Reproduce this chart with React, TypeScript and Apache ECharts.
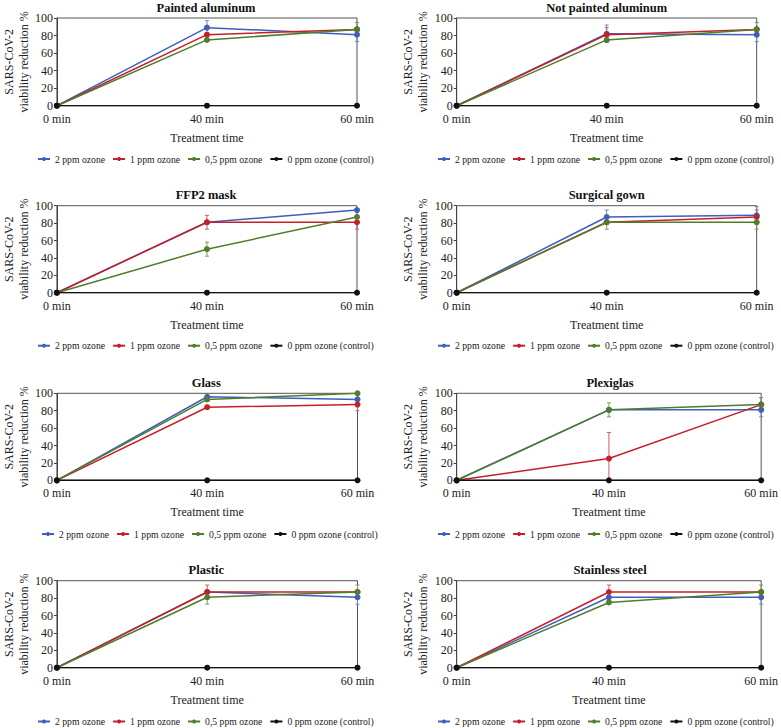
import React, { useEffect, useRef } from 'react';
import * as echarts from 'echarts';

const times = ['0 min', '40 min', '60 min'];
const seriesNames = ['2 ppm ozone', '1 ppm ozone', '0,5 ppm ozone', '0 ppm ozone (control)'];
const panelTitles = ['Painted aluminum', 'Not painted aluminum', 'FFP2 mask', 'Surgical gown', 'Glass', 'Plexiglas', 'Plastic', 'Stainless steel'];

// mean viability reduction (%) per panel, at 0 / 40 / 60 min
const values2ppm = [[0, 89, 81], [0, 82, 81], [0, 81, 95], [0, 87, 89], [0, 96, 93], [0, 81, 81], [0, 87, 81], [0, 81, 81]];
const values1ppm = [[0, 81, 87], [0, 81, 87], [0, 81, 81], [0, 81, 87], [0, 84, 87], [0, 25, 87], [0, 87, 87], [0, 87, 87]];
const values05ppm = [[0, 75, 87], [0, 75, 87], [0, 50, 87], [0, 81, 81], [0, 93, 100], [0, 81, 87], [0, 81, 87], [0, 75, 87]];
const values0ppm = [[0, 0, 0], [0, 0, 0], [0, 0, 0], [0, 0, 0], [0, 0, 0], [0, 0, 0], [0, 0, 0], [0, 0, 0]];

// error (+/-) per panel
const err2ppm = [[0, 8, 8], [0, 10, 8], [0, 0, 0], [0, 8, 10], [0, 0, 0], [0, 0, 8], [0, 0, 8], [0, 0, 8]];
const err1ppm = [[0, 0, 0], [0, 8, 0], [0, 8, 8], [0, 0, 8], [0, 0, 7], [0, 30, 8], [0, 8, 0], [0, 8, 0]];
const err05ppm = [[0, 0, 8], [0, 0, 8], [0, 8, 0], [0, 8, 8], [0, 0, 0], [0, 8, 8], [0, 8, 8], [0, 0, 8]];

const yTicks = { min: 0, max: 100, interval: 20 };

const lineColors = ['#3d5fbd', '#c4202b', '#4f7d2b', '#111111'];
const errColors = ['#7088c8', '#d25a60', '#7f9c63'];
const FONT = 'Liberation Serif';

// layout: [left, top, width, height]
const gridRects = [
  [55, 18, 302, 87.7],
  [456.7, 18, 300, 87.7],
  [55, 205.7, 302, 87],
  [456.7, 205.7, 300, 87],
  [55, 393.3, 302.5, 87],
  [456.7, 393.3, 306.6, 87],
  [55, 580.7, 302.5, 87],
  [456.7, 580.7, 306.6, 87],
];
const legendPos = [
  [37, 160], [437, 160], [37, 346.7], [437, 346.7], [41, 535], [437, 535], [37, 722.5], [437, 722.5],
];

export default function App() {
  const ref = useRef<HTMLDivElement>(null);
  useEffect(() => {
    document.body.style.margin = '0';
    if (!ref.current) return;
    const chart = echarts.init(ref.current, undefined, { renderer: 'svg' });

    const grid: any[] = [];
    const xAxis: any[] = [];
    const yAxis: any[] = [];
    const title: any[] = [];
    const legend: any[] = [];
    const series: any[] = [];

    const allValues = [values2ppm, values1ppm, values05ppm, values0ppm];
    const allErr = [err2ppm, err1ppm, err05ppm];

    panelTitles.forEach((t, p) => {
      const [l, tp, w, h] = gridRects[p];
      grid.push({ left: l, top: tp, width: w, height: h, show: true, borderColor: '#555', borderWidth: 1, backgroundColor: 'transparent' });
      title.push({
        text: t, left: l + w / 2, top: tp - 17, textAlign: 'center', padding: 0,
        textStyle: { fontFamily: FONT, fontWeight: 'bold', fontSize: 12.5, color: '#111' },
      });
      xAxis.push({
        type: 'category', gridIndex: p, data: times, boundaryGap: false,
        name: 'Treatment time', nameLocation: 'middle', nameGap: 26,
        nameTextStyle: { fontFamily: FONT, fontSize: 12, color: '#222' },
        axisLine: { lineStyle: { color: '#444' } },
        axisTick: { show: false },
        axisLabel: { fontFamily: FONT, fontSize: 12, color: '#222', margin: 7 },
        splitLine: { show: false },
      });
      yAxis.push({
        type: 'value', gridIndex: p, min: yTicks.min, max: yTicks.max, interval: yTicks.interval,
        name: 'SARS-CoV-2\nviability reduction %', nameLocation: 'middle', nameGap: 25, nameRotate: 90,
        nameTextStyle: { fontFamily: FONT, fontSize: 12, color: '#222', lineHeight: 15 },
        axisLine: { show: true, lineStyle: { color: '#444' } },
        axisTick: { show: true, length: 3, lineStyle: { color: '#444' } },
        axisLabel: { fontFamily: FONT, fontSize: 12, color: '#222', margin: 4 },
        splitLine: { show: false },
      });
      legend.push({
        left: legendPos[p][0], top: legendPos[p][1] - 6, width: 400, orient: 'horizontal',
        data: seriesNames, itemWidth: 12, itemHeight: 5, itemGap: 7,
        textStyle: { fontFamily: FONT, fontSize: 9.7, color: '#222' },
        padding: 0,
      });

      // error bars
      const errData: any[] = [];
      for (let s = 0; s < 3; s++) {
        allValues[s][p].forEach((v, i) => {
          const e = allErr[s][p][i];
          if (e > 0) errData.push([i, v - e, v + e, s]);
        });
      }
      series.push({
        type: 'custom', xAxisIndex: p, yAxisIndex: p, z: 1, silent: true,
        data: errData,
        renderItem: (params: any, api: any) => {
          const x = api.value(0);
          const lo = api.coord([x, api.value(1)]);
          const hi = api.coord([x, api.value(2)]);
          const cs = params.coordSys;
          const yLo = Math.min(lo[1], cs.y + cs.height);
          const yHi = Math.max(hi[1], cs.y);
          const c = errColors[api.value(3)];
          const st = { stroke: c, lineWidth: 1 };
          const children: any[] = [
            { type: 'line', shape: { x1: lo[0], y1: yLo, x2: hi[0], y2: yHi }, style: st },
          ];
          if (hi[1] >= cs.y) children.push({ type: 'line', shape: { x1: hi[0] - 2, y1: yHi, x2: hi[0] + 2, y2: yHi }, style: st });
          if (lo[1] <= cs.y + cs.height) children.push({ type: 'line', shape: { x1: lo[0] - 2, y1: yLo, x2: lo[0] + 2, y2: yLo }, style: st });
          return { type: 'group', children };
        },
      });

      for (let s = 0; s < 4; s++) {
        series.push({
          type: 'line', name: seriesNames[s], xAxisIndex: p, yAxisIndex: p, z: 2,
          data: allValues[s][p],
          symbol: 'circle', symbolSize: 6, showSymbol: true,
          lineStyle: { color: lineColors[s], width: 1.5 },
          itemStyle: { color: lineColors[s] },
        });
      }
    });

    chart.setOption({
      animation: false,
      backgroundColor: '#fff',
      textStyle: { fontFamily: FONT },
      grid, xAxis, yAxis, title, legend, series,
    });
    return () => chart.dispose();
  }, []);
  return <div ref={ref} style={{ width: 781, height: 728 }} />;
}
